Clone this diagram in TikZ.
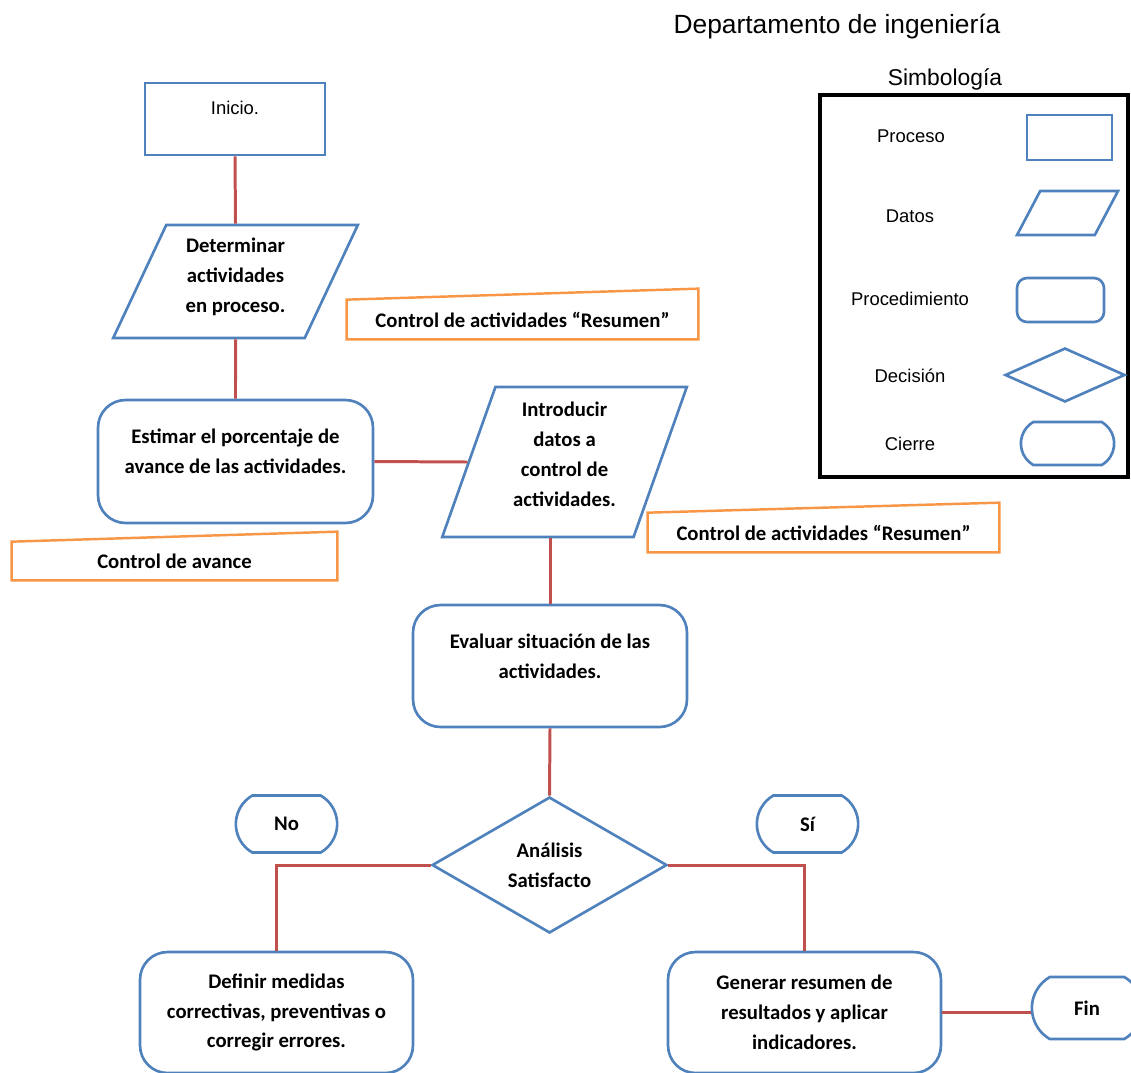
\documentclass[tikz,border=0pt]{standalone}
\usepackage{fontspec}
\setmainfont{Carlito}
\newfontfamily\arialfont{Liberation Sans}
\usetikzlibrary{shapes.geometric,shapes.misc}
\definecolor{shapeblue}{HTML}{4F81BD}
\definecolor{linkred}{HTML}{C0504D}
\definecolor{noteorange}{HTML}{F79646}

\begin{document}
\begin{tikzpicture}[x=0.02cm,y=-0.02cm]

		% Define styles
		\tikzstyle{process} = [
		rectangle, draw=shapeblue, line width=1.6pt, align=center]
		\tikzstyle{io} = [
		trapezium, trapezium stretches=true, draw=shapeblue,
		line width=1.5pt, inner sep=2pt, align=center]
		\tikzstyle{procedure} = [
		rectangle, rounded corners=0.55cm, draw=shapeblue,
		line width=1.5pt, align=center]
		\tikzstyle{decision} = [
		diamond, draw=shapeblue, line width=1.5pt,
		inner sep=0pt, align=center]
		\tikzstyle{terminal} = [
		rounded rectangle, rounded rectangle arc length=120,
		draw=shapeblue, line width=1.5pt]
		\tikzstyle{note} = [rectangle, inner sep=0pt]
		\tikzstyle{noteframe} = [draw=noteorange, line width=1.4pt]
		\tikzstyle{link} = [draw=linkred, line width=1.7pt]
		\tikzstyle{flowtext} = [font=\bfseries\fontsize{11.8}{17}\selectfont]
		\tikzstyle{legendtext} = [anchor=base, font=\arialfont\fontsize{10.5}{12}\selectfont]

		\useasboundingbox (0,0) rectangle (1131,1072);

		% Titles
		\node (title) [anchor=base, font=\arialfont\fontsize{15}{18}\selectfont] at (837,33) {Departamento de ingeniería};
		\node (simbologia) [anchor=base, font=\arialfont\fontsize{13}{15}\selectfont] at (945,85) {Simbología};

		% Legend
		\node (legend) [rectangle, draw=black, line width=1.8pt, minimum width=6.16cm, minimum height=7.64cm] at (974,286) {};
		\node (lproceso) [legendtext] at (911,142) {Proceso};
		\node (ldatos) [legendtext] at (910,222) {Datos};
		\node (lproced) [legendtext] at (910,305) {Procedimiento};
		\node (ldecision) [legendtext] at (910,382) {Decisión};
		\node (lcierre) [legendtext] at (910,450) {Cierre};

		\node (symproc) [process, minimum width=1.7cm, minimum height=0.9cm] at (1069.5,137.5) {};
		\node (symdata) [io, trapezium left angle=67, trapezium right angle=113,
			minimum width=2.02cm, minimum height=0.88cm] at (1067.5,213) {};
		\node (symproced) [procedure, rounded corners=0.2cm, minimum width=1.74cm, minimum height=0.88cm] at (1060.5,300) {};
		\node (symdec) [decision, minimum width=2.4cm, minimum height=1.08cm] at (1065,375) {};
		\node (symend) [terminal, minimum width=2.1cm, minimum height=0.86cm] at (1067.5,443.5) {};

		% Nodes
		\node (inicio) [process, minimum width=3.6cm, minimum height=1.44cm,
			font=\arialfont\fontsize{10.5}{13}\selectfont] at (235,119) {Inicio.\\\mbox{}};

		\node (determinar) [io, flowtext, trapezium left angle=66.6, trapezium right angle=113.4,
			minimum width=4.9cm, minimum height=2.26cm] at (235.5,281.5) {
			Determinar\\actividades\\en proceso.\\[-9.5pt]\mbox{}
		};

		\node (resA) [note, flowtext, minimum width=7.02cm, minimum height=0.78cm] at (522.5,319.5) {Control de actividades “Resumen”};

		\node (estimar) [procedure, flowtext, minimum width=5.5cm, minimum height=2.46cm] at (235.5,461.5) {
			Estimar el porcentaje de\\avance de las actividades.\\[-5.7pt]\mbox{}
		};

		\node (intro) [io, flowtext, trapezium left angle=71.6, trapezium right angle=108.4,
			minimum width=4.9cm, minimum height=3cm] at (564.5,462) {
			Introducir\\datos a\\control de\\actividades.\\[-8pt]\mbox{}
		};

		\node (resB) [note, flowtext, minimum width=7.02cm, minimum height=0.78cm] at (823.5,532.5) {Control de actividades “Resumen”};

		\node (avance) [note, flowtext, minimum width=6.5cm, minimum height=0.76cm] at (174.5,561) {Control de avance};

		\node (evaluar) [procedure, flowtext, minimum width=5.48cm, minimum height=2.44cm] at (550,666) {
			Evaluar situación de las\\actividades.\\[-5.7pt]\mbox{}
		};

		\node (analisis) [decision, flowtext, minimum width=4.7cm, minimum height=2.72cm] at (549.5,865) {Análisis\\Satisfacto};

		\node (no) [terminal, flowtext, minimum width=2.26cm, minimum height=1.14cm] at (286.5,824) {No};
		\node (si) [terminal, flowtext, minimum width=2.26cm, minimum height=1.14cm] at (807.5,824) {Sí};

		\node (definir) [procedure, flowtext, minimum width=5.46cm, minimum height=2.42cm] at (276.5,1012.5) {
			Definir medidas\\correctivas, preventivas o\\corregir errores.
		};

		\node (generar) [procedure, flowtext, minimum width=5.46cm, minimum height=2.42cm] at (804.5,1012.5) {
			Generar resumen de\\resultados y aplicar\\indicadores.
		};

		\node (fin) [terminal, flowtext, minimum width=2.44cm, minimum height=1.24cm] at (1087,1008) {Fin};

		% Document frames
		\draw [noteframe] (resA.south west) -- (resA.north west) -- ([yshift=0.22cm]resA.north east) -- (resA.south east) -- cycle;
		\draw [noteframe] (resB.south west) -- (resB.north west) -- ([yshift=0.2cm]resB.north east) -- (resB.south east) -- cycle;
		\draw [noteframe] (avance.south west) -- (avance.north west) -- ([yshift=0.2cm]avance.north east) -- (avance.south east) -- cycle;

		% Connectors
		\draw [link] (inicio.south) -- (determinar.north);
		\draw [link] (determinar.south) -- (estimar.north);
		\draw [link] (estimar.east) -- (intro.west);
		\draw [link] (intro.south -| evaluar.north) -- (evaluar.north);
		\draw [link] (evaluar.south) -- (analisis.north);
		\draw [link] (analisis.west) -| (definir.north);
		\draw [link] (analisis.east) -| (generar.north);
		\draw [link] (generar.east) -- (generar.east -| fin.west);
	\end{tikzpicture}
\end{document}
